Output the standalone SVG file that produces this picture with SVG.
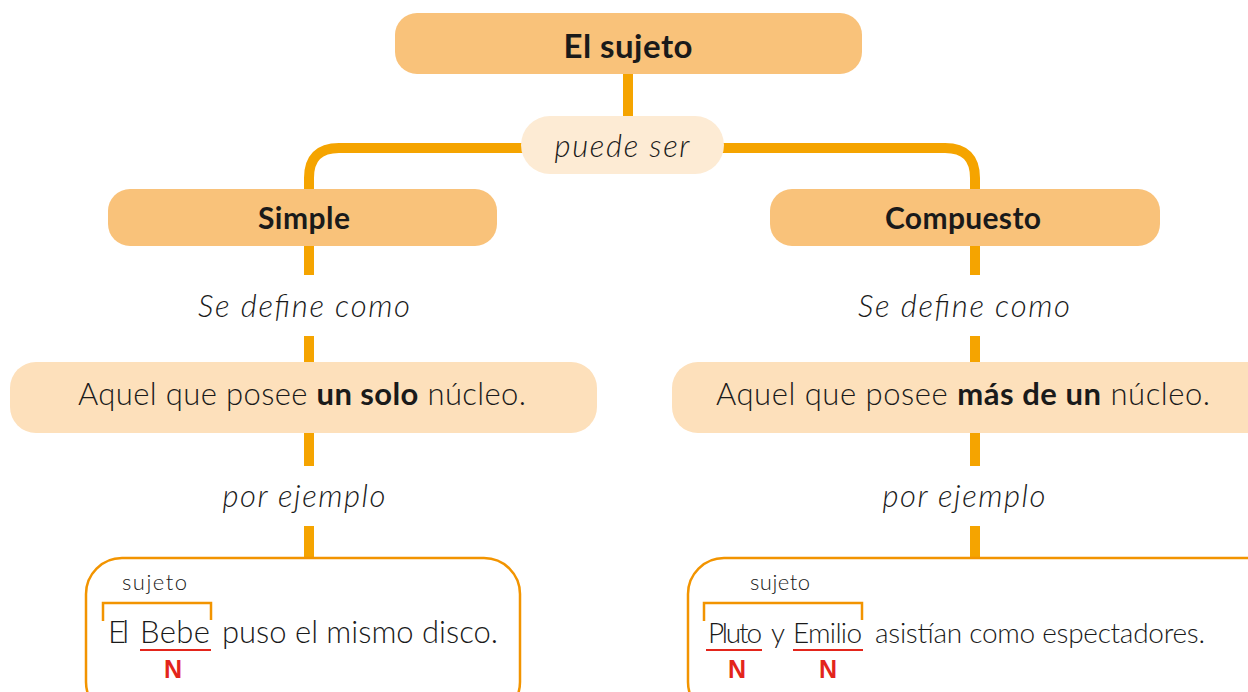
<svg xmlns="http://www.w3.org/2000/svg" width="1248" height="692" viewBox="0 0 1248 692">
<style>
.t{font-family:"Lato","Liberation Sans",sans-serif;fill:#1a1a1a}
.b{font-weight:bold}
.l{font-weight:300}
.i{font-style:italic;font-weight:300}
.hd{fill:#f9c27a}
.df{fill:#fde0bb}
.lk{fill:#fdebd4}
.ex{fill:#ffffff;stroke:#f29400;stroke-width:2.5}
.cn{fill:none;stroke:#f5a400;stroke-width:10}
.br{fill:none;stroke:#f29400;stroke-width:2.5}
.ul{stroke:#e3251b;stroke-width:2}
.n{font-family:"Liberation Sans",sans-serif;font-weight:bold;fill:#e3251b;font-size:25px}
</style>
<rect width="1248" height="692" fill="#ffffff"/>
<g id="connectors">
  <line class="cn" x1="628" y1="74" x2="628" y2="118"/>
  <path class="cn" d="M309 192 V178 Q309 148 339 148 H945 Q975 148 975 178 V192"/>
  <line class="cn" x1="309" y1="245" x2="309" y2="275"/>
  <line class="cn" x1="309" y1="336" x2="309" y2="363"/>
  <line class="cn" x1="309" y1="432" x2="309" y2="466"/>
  <line class="cn" x1="309" y1="526" x2="309" y2="559"/>
  <line class="cn" x1="975" y1="245" x2="975" y2="275"/>
  <line class="cn" x1="975" y1="336" x2="975" y2="363"/>
  <line class="cn" x1="975" y1="432" x2="975" y2="466"/>
  <line class="cn" x1="975" y1="526" x2="975" y2="559"/>
</g>
<g id="title">
  <rect class="hd" x="395" y="13" width="467" height="61" rx="22"/>
  <text class="t b" x="628" y="58" font-size="33" text-anchor="middle" textLength="129">El sujeto</text>
</g>
<g id="puede-ser">
  <rect class="lk" x="521" y="116" width="203" height="58" rx="29"/>
  <text class="t i" x="622" y="157" font-size="31" text-anchor="middle" textLength="135">puede ser</text>
</g>
<g id="simple">
  <rect class="hd" x="108" y="189" width="389" height="57" rx="22"/>
  <text class="t b" x="304" y="229" font-size="30" text-anchor="middle" textLength="92">Simple</text>
</g>
<g id="compuesto">
  <rect class="hd" x="770" y="189" width="390" height="57" rx="22"/>
  <text class="t b" x="963" y="229" font-size="30" text-anchor="middle" textLength="156">Compuesto</text>
</g>
<g id="simple-define-label">
  <text class="t i" x="304" y="317" font-size="31" text-anchor="middle" textLength="212">Se define como</text>
</g>
<g id="compuesto-define-label">
  <text class="t i" x="964" y="317" font-size="31" text-anchor="middle" textLength="212">Se define como</text>
</g>
<g id="simple-def">
  <rect class="df" x="10" y="362" width="587" height="71" rx="26"/>
  <text class="t l" x="302" y="405" font-size="31" text-anchor="middle" textLength="448">Aquel que posee <tspan class="b">un solo</tspan> núcleo.</text>
</g>
<g id="compuesto-def">
  <rect class="df" x="672" y="362" width="600" height="71" rx="26"/>
  <text class="t l" x="963" y="405" font-size="31" text-anchor="middle" textLength="494">Aquel que posee <tspan class="b">más de un</tspan> núcleo.</text>
</g>
<g id="simple-ejemplo-label">
  <text class="t i" x="304" y="507" font-size="31" text-anchor="middle" textLength="163">por ejemplo</text>
</g>
<g id="compuesto-ejemplo-label">
  <text class="t i" x="964" y="507" font-size="31" text-anchor="middle" textLength="163">por ejemplo</text>
</g>
<g id="simple-example">
  <rect class="ex" x="86" y="558" width="434" height="160" rx="36"/>
  <text class="t l" x="122" y="590" font-size="22" textLength="65">sujeto</text>
  <path class="br" d="M103 621 V603 H211 V620"/>
  <text class="t l" y="643" font-size="31"><tspan x="108" textLength="21">El</tspan><tspan x="140" textLength="70">Bebe</tspan><tspan x="222" textLength="276">puso el mismo disco.</tspan></text>
  <line class="ul" x1="140" y1="650" x2="211" y2="650"/>
  <text class="n" x="173" y="678" text-anchor="middle">N</text>
</g>
<g id="compuesto-example">
  <rect class="ex" x="688" y="558" width="600" height="160" rx="36"/>
  <text class="t l" x="750" y="590" font-size="22" textLength="60">sujeto</text>
  <path class="br" d="M704 621 V603 H862 V620"/>
  <text class="t l" y="643" font-size="28"><tspan x="708" textLength="54">Pluto</tspan><tspan x="771">y</tspan><tspan x="793" textLength="69">Emilio</tspan><tspan x="875" textLength="330">asistían como espectadores.</tspan></text>
  <line class="ul" x1="706" y1="650" x2="762" y2="650"/>
  <line class="ul" x1="793" y1="650" x2="863" y2="650"/>
  <text class="n" x="737" y="678" text-anchor="middle">N</text>
  <text class="n" x="828" y="678" text-anchor="middle">N</text>
</g>
</svg>
